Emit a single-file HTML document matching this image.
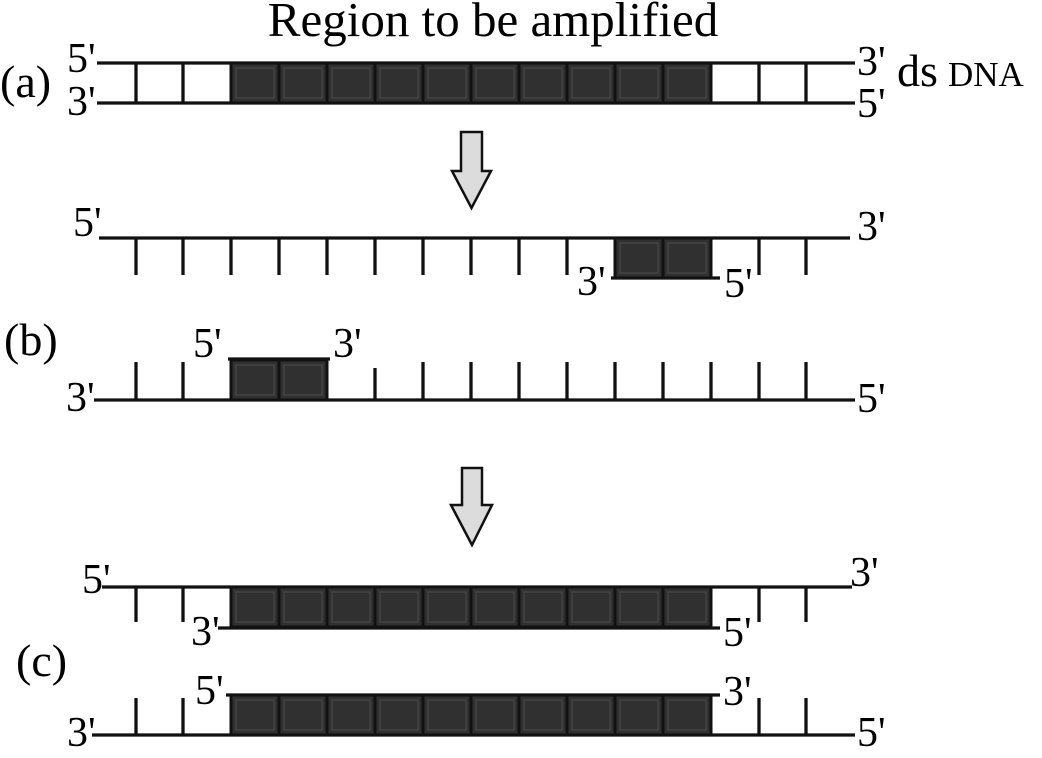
<!DOCTYPE html>
<html><head><meta charset="utf-8"><style>
html,body{margin:0;padding:0;background:#fff;width:1042px;height:758px;overflow:hidden}
text{font-family:"Liberation Serif",serif;fill:#000}
</style></head><body>
<svg width="1042" height="758" viewBox="0 0 1042 758" xmlns="http://www.w3.org/2000/svg">
<defs>
<g id="bx"><rect x="0" y="0" width="48" height="40" fill="#303030" stroke="#111" stroke-width="3"/><rect x="5" y="5" width="38" height="30" fill="none" stroke="#444" stroke-width="1.5"/></g>
<g id="dark10"><use href="#bx" x="0"/><use href="#bx" x="48"/><use href="#bx" x="96"/><use href="#bx" x="144"/><use href="#bx" x="192"/><use href="#bx" x="240"/><use href="#bx" x="288"/><use href="#bx" x="336"/><use href="#bx" x="384"/><use href="#bx" x="432"/></g>
</defs>
<g stroke="#111" stroke-width="3.3" fill="none">
<line x1="97" y1="63" x2="855" y2="63"/><line x1="97" y1="103" x2="855" y2="103"/>
<line x1="136" y1="63" x2="136" y2="103"/><line x1="183" y1="63" x2="183" y2="103"/>
<line x1="759" y1="63" x2="759" y2="103"/><line x1="806" y1="63" x2="806" y2="103"/>
<line x1="99" y1="238" x2="850" y2="238"/>
<line x1="136" y1="238" x2="136" y2="275"/><line x1="183" y1="238" x2="183" y2="275"/>
<line x1="231" y1="238" x2="231" y2="275"/><line x1="279" y1="238" x2="279" y2="275"/>
<line x1="327" y1="238" x2="327" y2="275"/><line x1="375" y1="238" x2="375" y2="275"/>
<line x1="423" y1="238" x2="423" y2="275"/><line x1="471" y1="238" x2="471" y2="275"/>
<line x1="519" y1="238" x2="519" y2="275"/><line x1="567" y1="238" x2="567" y2="275"/>
<line x1="759" y1="238" x2="759" y2="275"/><line x1="806" y1="238" x2="806" y2="275"/>
<line x1="611" y1="278" x2="720" y2="278"/>
<line x1="94" y1="400" x2="855" y2="400"/>
<line x1="228" y1="359" x2="330" y2="359"/>
<line x1="136" y1="362" x2="136" y2="400"/><line x1="183" y1="362" x2="183" y2="400"/>
<line x1="375" y1="368" x2="375" y2="400"/><line x1="423" y1="362" x2="423" y2="400"/>
<line x1="471" y1="362" x2="471" y2="400"/><line x1="519" y1="362" x2="519" y2="400"/>
<line x1="567" y1="362" x2="567" y2="400"/><line x1="615" y1="362" x2="615" y2="400"/>
<line x1="663" y1="362" x2="663" y2="400"/><line x1="711" y1="362" x2="711" y2="400"/>
<line x1="759" y1="362" x2="759" y2="400"/><line x1="806" y1="362" x2="806" y2="400"/>
<line x1="102" y1="587" x2="852" y2="587"/>
<line x1="218" y1="628" x2="720" y2="628"/>
<line x1="136" y1="587" x2="136" y2="622"/><line x1="183" y1="587" x2="183" y2="622"/>
<line x1="759" y1="587" x2="759" y2="622"/><line x1="806" y1="587" x2="806" y2="622"/>
<line x1="226" y1="695" x2="720" y2="695"/>
<line x1="92" y1="735" x2="855" y2="735"/>
<line x1="136" y1="698" x2="136" y2="735"/><line x1="183" y1="698" x2="183" y2="735"/>
<line x1="759" y1="698" x2="759" y2="735"/><line x1="806" y1="698" x2="806" y2="735"/>
</g>
<use href="#dark10" x="231" y="63"/>
<use href="#bx" x="615" y="238"/><use href="#bx" x="663" y="238"/>
<use href="#bx" x="231" y="360"/><use href="#bx" x="279" y="360"/>
<use href="#dark10" x="231" y="587"/>
<use href="#dark10" x="231" y="695"/>
<path d="M461 132 H482 V171 H491 L471.5 208 L452 171 H461 Z" fill="#dcdcdc" stroke="#111" stroke-width="2.5"/>
<path d="M462 468 H482 V505 H492 L472 545 L451 505 H462 Z" fill="#dcdcdc" stroke="#111" stroke-width="2.5"/>
<text x="493" y="36" font-size="49" text-anchor="middle">Region to be amplified</text>
<text x="0" y="97" font-size="46">(a)</text>
<text x="67" y="72" font-size="42">5'</text>
<text x="67" y="115" font-size="42">3'</text>
<text x="857" y="75" font-size="42">3'</text>
<text x="857" y="117" font-size="42">5'</text>
<text x="897" y="86" font-size="46">ds</text>
<text x="948" y="86" font-size="35">DNA</text>
<text x="73" y="236" font-size="42">5'</text>
<text x="857" y="240" font-size="42">3'</text>
<text x="577" y="295" font-size="42">3'</text>
<text x="724" y="297" font-size="42">5'</text>
<text x="4" y="355" font-size="46">(b)</text>
<text x="193" y="357" font-size="42">5'</text>
<text x="333" y="357" font-size="42">3'</text>
<text x="66" y="411" font-size="42">3'</text>
<text x="857" y="412" font-size="42">5'</text>
<text x="82" y="593" font-size="42">5'</text>
<text x="850" y="586" font-size="42">3'</text>
<text x="191" y="645" font-size="42">3'</text>
<text x="723" y="646" font-size="42">5'</text>
<text x="16" y="676" font-size="46">(c)</text>
<text x="195" y="704" font-size="42">5'</text>
<text x="723" y="705" font-size="42">3'</text>
<text x="67" y="746" font-size="42">3'</text>
<text x="857" y="746" font-size="42">5'</text>
</svg>
</body></html>
